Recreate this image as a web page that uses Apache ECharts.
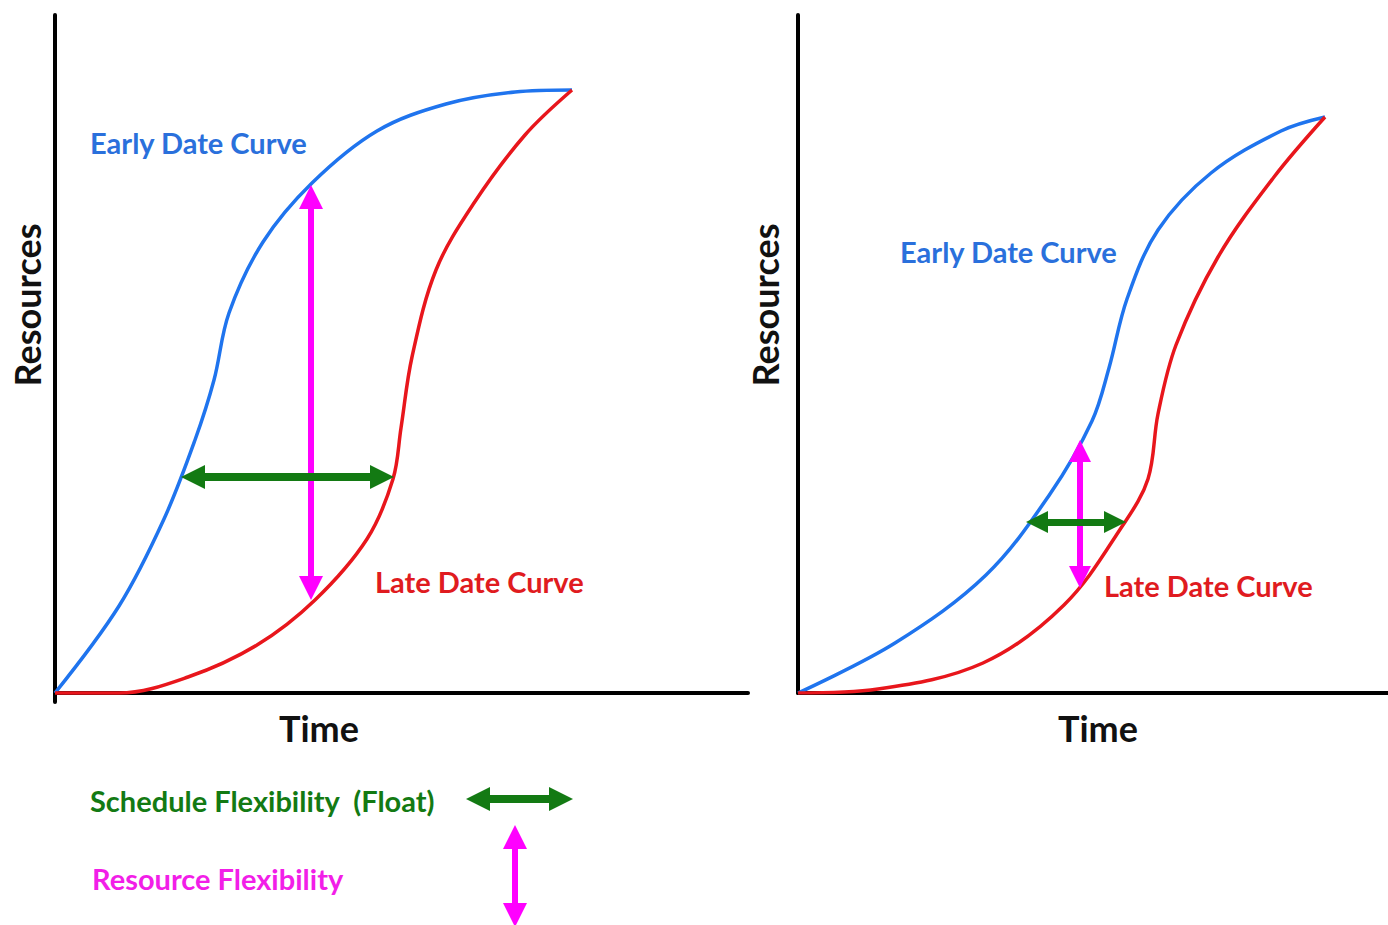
<!DOCTYPE html>
<html>
<head>
<meta charset="utf-8">
<script src="https://cdn.jsdelivr.net/npm/echarts@6/dist/echarts.min.js"></script>
<style>
  html, body { margin: 0; padding: 0; background: #fff; }
  #chart { width: 1388px; height: 925px; }
</style>
</head>
<body>
<div id="chart"></div>
<script>
// Кривые ресурсов: [время, ресурсы] в единицах осей каждой панели
const leftEarly = [[0,0],[64,87],[109,174],[140,253],[159,313],[174,380],[208,451],[257,510],[322,562],[391,589],[460,601],[517,603]];
const leftLate = [[0,0],[64,0],[133,16],[202,48],[260,93],[312,154],[338,214],[346,265],[357,336],[381,423],[419,490],[470,558],[517,603]];
const rightEarly = [[0,0],[97,50],[188,118],[252,199],[294,272],[311,325],[329,394],[360,463],[413,520],[483,562],[527,576]];
const rightLate = [[0,0],[80,4],[185,30],[266,88],[325,168],[350,214],[360,279],[378,348],[420,436],[476,516],[527,576]];

// Стрелки гибкости: [начало, конец]
const leftFloat = [[138,216],[327,216]];
const leftRes = [[256,105],[256,496]];
const rightFloat = [[239,171],[317,171]];
const rightRes = [[282,116],[282,242]];
const legendFloat = [[478,126],[561,126]];
const legendRes = [[515,88],[515,10]];

const BLUE = '#1f74ee';
const RED = '#e8161c';
const GREEN = '#137a13';
const MAGENTA = '#ff00ff';
const FONT = 'Lato';

const chart = echarts.init(document.getElementById('chart'), null, { renderer: 'svg' });

const hidden = { show: false };
const axisLine = { show: true, onZero: true, lineStyle: { color: '#000', width: 4 } };

function curve(data, color, idx) {
    return {
        type: 'line', xAxisIndex: idx, yAxisIndex: idx, data: data,
        smooth: 0.35, showSymbol: false, symbol: 'none',
        lineStyle: { color: color, width: 3.5 }, z: 3
    };
}

function arrow(coords, color, width, size, idx) {
    return {
        type: 'lines', coordinateSystem: 'cartesian2d', xAxisIndex: idx, yAxisIndex: idx,
        symbol: ['triangle', 'triangle'], symbolSize: size,
        lineStyle: { color: color, width: width, opacity: 1 },
        itemStyle: { color: color },
        data: [{ coords: coords }], z: 4, silent: true
    };
}

function label(text, x, y, color, size, align, rotation) {
    return {
        type: 'text', x: x, y: y, rotation: rotation || 0,
        style: {
            text: text, fill: color, font: 'bold ' + size + 'px ' + FONT,
            align: align || 'left', verticalAlign: 'middle'
        }
    };
}

const option = {
    animation: false,
    backgroundColor: '#fff',
    grid: [
        { left: 55, top: 15, width: 693, height: 687 },
        { left: 798, top: 15, width: 590, height: 678 },
        { left: 0, top: 740, width: 1388, height: 185 }
    ],
    xAxis: [
        { type: 'value', gridIndex: 0, min: 0, max: 693, axisLine: axisLine, axisTick: hidden, axisLabel: hidden, splitLine: hidden },
        { type: 'value', gridIndex: 1, min: 0, max: 590, axisLine: axisLine, axisTick: hidden, axisLabel: hidden, splitLine: hidden },
        { type: 'value', gridIndex: 2, min: 0, max: 1388, show: false }
    ],
    yAxis: [
        { type: 'value', gridIndex: 0, min: -9, max: 678, axisLine: axisLine, axisTick: hidden, axisLabel: hidden, splitLine: hidden },
        { type: 'value', gridIndex: 1, min: 0, max: 678, axisLine: axisLine, axisTick: hidden, axisLabel: hidden, splitLine: hidden },
        { type: 'value', gridIndex: 2, min: 0, max: 185, show: false }
    ],
    series: [
        curve(leftEarly, BLUE, 0),
        curve(leftLate, RED, 0),
        curve(rightEarly, BLUE, 1),
        curve(rightLate, RED, 1),
        arrow(leftRes, MAGENTA, 6, 24, 0),
        arrow(leftFloat, GREEN, 8, 24, 0),
        arrow(rightRes, MAGENTA, 6, 22, 1),
        arrow(rightFloat, GREEN, 7, 22, 1),
        arrow(legendFloat, GREEN, 8, 24, 2),
        arrow(legendRes, MAGENTA, 6, 24, 2)
    ],
    graphic: [
        label('Early Date Curve', 90, 142, '#2a70dc', 29),
        label('Late Date Curve', 375, 581, '#e01b20', 29),
        label('Early Date Curve', 900, 251, '#2a70dc', 29),
        label('Late Date Curve', 1104, 585, '#e01b20', 29),
        label('Resources', 27, 305, '#111', 36, 'center', Math.PI / 2),
        label('Resources', 765, 305, '#111', 36, 'center', Math.PI / 2),
        label('Time', 319, 728, '#111', 36, 'center'),
        label('Time', 1098, 728, '#111', 36, 'center'),
        label('Schedule Flexibility  (Float)', 90, 800, GREEN, 29),
        label('Resource Flexibility', 92, 878, '#f21ee8', 29)
    ]
};

chart.setOption(option);
</script>
</body>
</html>
